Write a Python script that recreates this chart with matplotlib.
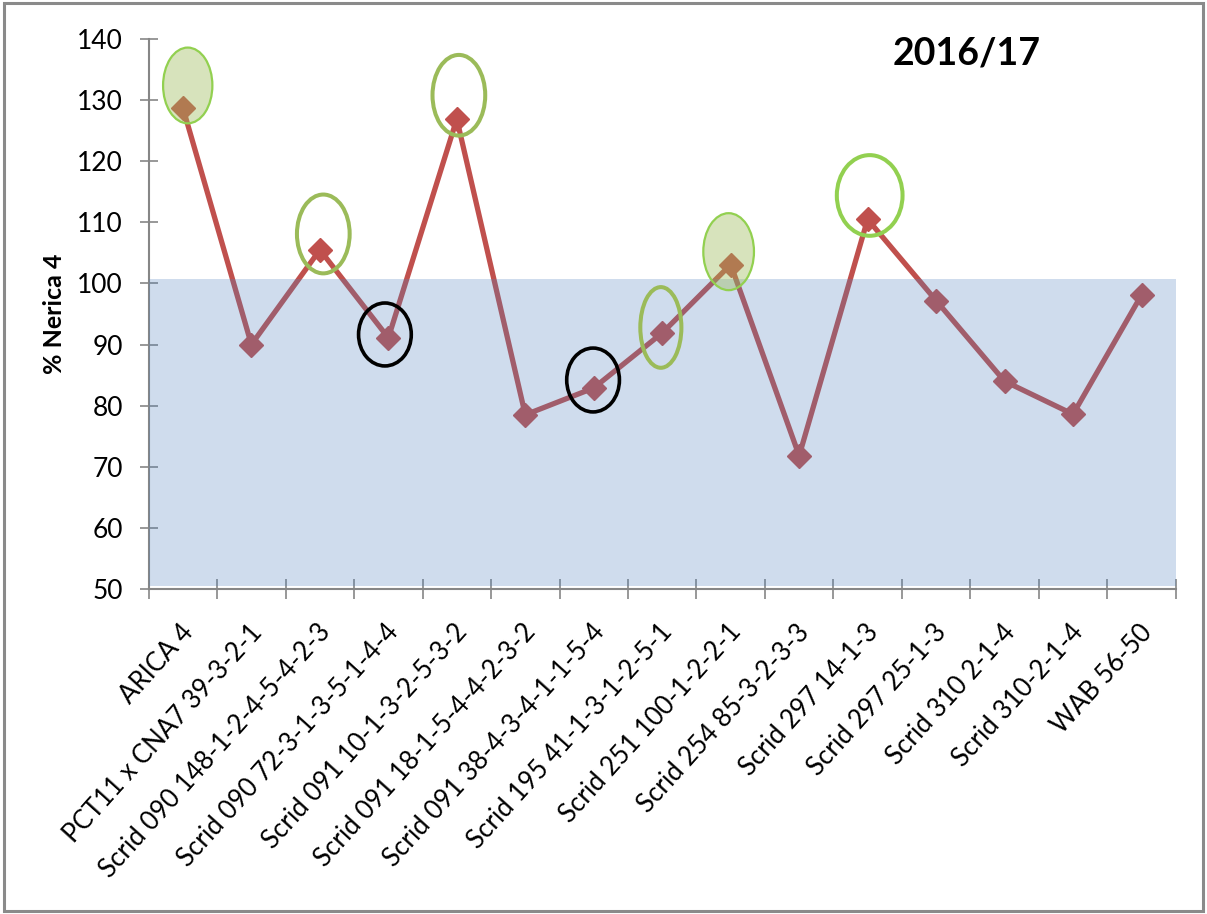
import numpy as np
import matplotlib
matplotlib.use("Agg")
import matplotlib.pyplot as plt
from matplotlib.patches import Rectangle, Ellipse
from matplotlib.transforms import ScaledTranslation

plt.rcParams["font.family"] = ["Lato", "DejaVu Sans"]

# --- data ---
lines = ["ARICA 4", "PCT11 x CNA7 39-3-2-1", "Scrid 090 148-1-2-4-5-4-2-3",
         "Scrid 090 72-3-1-3-5-1-4-4", "Scrid 091 10-1-3-2-5-3-2",
         "Scrid 091 18-1-5-4-4-2-3-2", "Scrid 091 38-4-3-4-1-1-5-4",
         "Scrid 195 41-1-3-1-2-5-1", "Scrid 251 100-1-2-2-1",
         "Scrid 254 85-3-2-3-3", "Scrid 297 14-1-3", "Scrid 297 25-1-3",
         "Scrid 310 2-1-4", "Scrid 310-2-1-4", "WAB 56-50"]
pct_nerica4 = [128.7, 90.0, 105.5, 91.1, 126.9, 78.5, 82.9, 91.9, 103.1,
               71.8, 110.5, 97.2, 84.0, 78.6, 98.1]
band_low, band_high = 50.5, 100.7   # shaded "below check" band

# highlight ellipses: (x centre, y centre, width, height)
green_filled = [(0.07, 132.4, 0.72, 12.4), (7.97, 105.2, 0.74, 12.6)]
green_olive = [(2.05, 108.1, 0.77, 12.9), (4.03, 130.8, 0.77, 13.2),
               (6.98, 92.8, 0.60, 13.2)]
green_bright = [(10.03, 114.4, 0.96, 13.2)]
black_rings = [(2.95, 91.65, 0.77, 10.3), (5.99, 84.2, 0.77, 10.45)]

fig = plt.figure(figsize=(12.07, 9.14), dpi=100)
ax = fig.add_axes([0.1232, 0.3556, 0.8509, 0.6017])

x = np.arange(len(lines))
ax.plot(x, pct_nerica4, color="#c0504d", lw=3.8, marker="D", ms=12,
        zorder=2)
ax.add_patch(Rectangle((-0.5, band_low), len(lines), band_high - band_low,
                       facecolor="#4f81bd", alpha=0.27, lw=0, zorder=3))

for cx, cy, w, h in green_filled:
    ax.add_patch(Ellipse((cx, cy), w, h, facecolor="#9bbb59", alpha=0.4,
                         lw=0, zorder=4))
    ax.add_patch(Ellipse((cx, cy), w, h, facecolor="none",
                         edgecolor="#92d050", lw=1.6, zorder=5))
for cx, cy, w, h in green_olive:
    ax.add_patch(Ellipse((cx, cy), w, h, facecolor="none",
                         edgecolor="#9bbb59", lw=2.9, zorder=5))
for cx, cy, w, h in green_bright:
    ax.add_patch(Ellipse((cx, cy), w, h, facecolor="none",
                         edgecolor="#92d050", lw=2.9, zorder=5))
for cx, cy, w, h in black_rings:
    ax.add_patch(Ellipse((cx, cy), w, h, facecolor="none",
                         edgecolor="black", lw=2.6, zorder=5))

ax.set_xlim(-0.5, len(lines) - 0.5)
ax.set_ylim(50, 140)
ax.set_yticks(np.arange(50, 141, 10))
ax.set_xticks(np.arange(-0.5, len(lines), 1.0))
ax.set_xticklabels([])
ax.set_xticks(x, minor=True)
ax.set_xticklabels(lines, minor=True, rotation=48, ha="right",
                   rotation_mode="anchor", fontsize=18.5)
ax.tick_params(axis="x", which="minor", length=0, pad=22)
ax.tick_params(axis="x", which="major", direction="inout", length=15,
               width=1.2, color="#868686")
ax.tick_params(axis="y", direction="inout", length=13, width=1.2,
               color="#868686", labelsize=19, pad=12)
for lab in ax.get_xticklabels(minor=True):
    lab.set_transform(lab.get_transform() +
                      ScaledTranslation(-3 / 100, 0, fig.dpi_scale_trans))

for side in ("top", "right"):
    ax.spines[side].set_visible(False)
for side in ("left", "bottom"):
    ax.spines[side].set_color("#868686")
    ax.spines[side].set_linewidth(1.5)

ax.set_ylabel("% Nerica 4", fontsize=18, fontweight="bold", labelpad=8)
fig.text(0.801, 0.9415, "2016/17", fontsize=27, fontweight="bold",
         ha="center", va="center")

fig.patches.append(Rectangle((4 / 1207, 3 / 914), 1199 / 1207, 908 / 914,
                             transform=fig.transFigure, fill=False,
                             edgecolor="#8a8a8a", lw=2.2))

fig.savefig("out.png", dpi=100)
